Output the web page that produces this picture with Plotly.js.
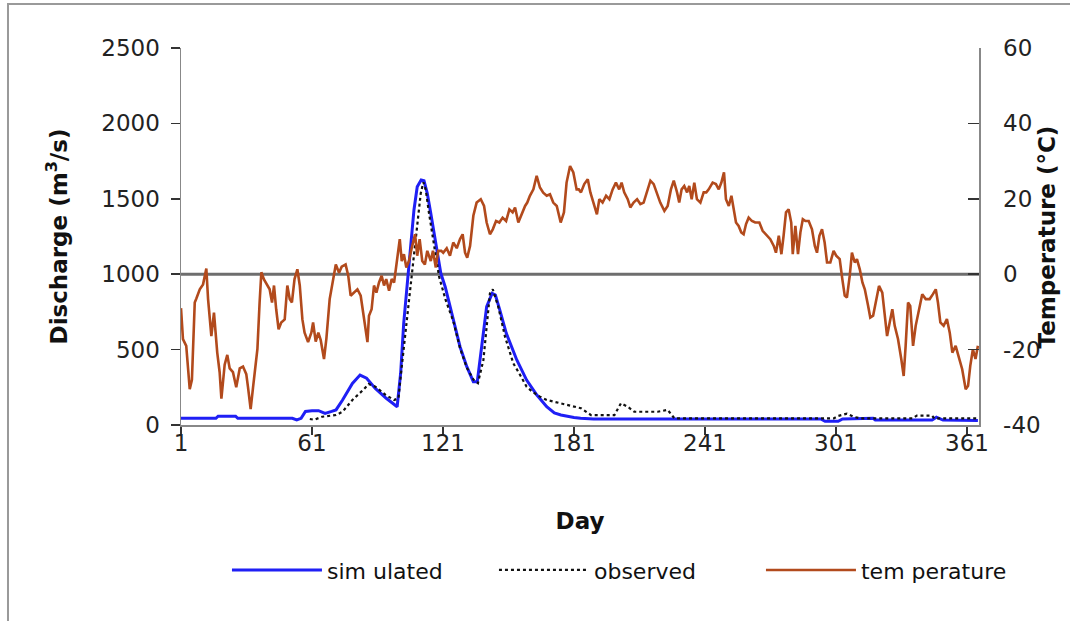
<!DOCTYPE html>
<html>
<head>
<meta charset="utf-8">
<script src="https://cdn.plot.ly/plotly-3.0.1.min.js"></script>
<style>html,body{margin:0;padding:0;background:#fff;}#chart{width:1070px;height:621px;}</style>
</head>
<body>
<div id="chart"></div>
<script>
// ---- data ----
const dayTicks = [1, 61, 121, 181, 241, 301, 361];
const qTicks = [0, 500, 1000, 1500, 2000, 2500];
const tTicks = [-40, -20, 0, 20, 40, 60];
const tTickText = ['-40', '-20', '0', '20', '40', '60'];

const simDay = [1, 17, 18, 26, 27, 52, 54, 56, 58, 61, 64, 67, 70, 72, 75, 79.5, 83, 86, 90, 95, 100, 101.6, 103, 104.7, 106.2, 107.7, 109.2, 111, 112.3, 113.8, 115.4, 117.7, 120, 122, 125.7, 128.8, 131.9, 134.9, 136.7, 138.7, 141, 143.5, 145, 147, 150, 154.8, 159.3, 164, 168.5, 172, 175, 181, 184, 190, 250, 294, 296, 302, 304, 318, 319, 345, 347, 350, 366];
const simQ   = [44, 44, 58, 58, 44, 44, 33, 44, 90, 95, 95, 77, 90, 100, 166, 276, 331, 310, 243, 177, 121, 343, 674, 961, 1205, 1426, 1580, 1625, 1620, 1536, 1404, 1205, 1006, 917, 696, 519, 387, 287, 287, 519, 785, 873, 862, 763, 608, 431, 298, 199, 121, 80, 66, 50, 44, 40, 40, 40, 25, 25, 40, 44, 33, 33, 52, 33, 30];

const obsDay = [60, 62, 65.7, 72, 75, 79.5, 84.4, 87, 90, 94.8, 98.6, 100.6, 101.6, 103.1, 104.7, 106.2, 107.7, 109.2, 110.8, 112, 113.1, 114.6, 116.9, 119.2, 122.2, 125.7, 128.8, 131.9, 135, 137, 139.5, 141, 142.5, 143.8, 146.3, 149.4, 153.2, 156, 159.3, 162, 165.4, 168.5, 173, 177.6, 182, 184.2, 188.8, 199.5, 202.5, 205.6, 208.6, 214.7, 219.3, 223.9, 227, 300, 302, 306, 309, 312, 336, 338, 345, 346, 366];
const obsQ   = [40, 35, 55, 66, 88, 166, 232, 272, 254, 199, 166, 177, 320, 519, 763, 961, 1160, 1359, 1536, 1610, 1560, 1404, 1182, 984, 829, 690, 510, 380, 300, 278, 431, 652, 873, 900, 785, 586, 409, 340, 254, 220, 188, 166, 150, 133, 121, 111, 66, 66, 144, 121, 88, 88, 88, 100, 44, 44, 60, 75, 55, 44, 44, 62, 62, 44, 44];

const tempDay = [1, 1.9, 3.4, 5, 6, 7.3, 8, 9.6, 11.1, 12.6, 13.4, 14.9, 16.1, 17.6, 18.7, 19.5, 21, 22.2, 23.3, 24.8, 26.3, 27.9, 29.4, 30.9, 31.7, 32.9, 34, 35, 36, 37, 37.8, 39, 40.5, 41.6, 42.7, 43.6, 44.6, 45.7, 46.9, 48.5, 49.7, 50.8, 51.8, 53, 54.3, 55.4, 56.6, 57.6, 59.2, 60.7, 61.5, 62.7, 63.9, 65, 66.5, 67.6, 69.1, 70.6, 71.9, 73.4, 74.6, 76.4, 77.6, 78.7, 80.2, 81.8, 83.3, 84.4, 85.3, 86.4, 87.1, 88.3, 89.4, 90.5, 91.7, 92.9, 94, 95, 96.3, 97.5, 98.6, 100.1, 101.2, 102.1, 103.1, 104.2, 105.4, 106.7, 108.2, 109.2, 110.3, 111.5, 112.7, 113.8, 115.4, 116.4, 117.7, 118.8, 120.2, 121.1, 122.7, 124.2, 125.7, 127.3, 128.8, 130, 131.1, 132.1, 133.4, 134.9, 136.4, 138.3, 139.8, 141, 142.5, 143.8, 145.3, 146.8, 148.3, 149.9, 151.4, 152.9, 154, 155.5, 157, 158.6, 159.6, 160.8, 162.4, 163.9, 165.4, 166.9, 168.5, 170, 171.5, 173.1, 174.9, 176.4, 177.6, 179.2, 180.7, 182.2, 183.2, 184.2, 185.7, 187.3, 188.5, 190, 191.5, 192.6, 194.1, 195.7, 197.2, 198.7, 200.2, 201.7, 202.8, 204, 205.6, 206.8, 208.3, 209.9, 211.4, 212.9, 214.4, 216, 217.5, 219, 220.5, 222.4, 223.9, 225.4, 226.7, 228.2, 229.2, 230.3, 231.5, 232.8, 233.8, 234.9, 236.1, 237.3, 238.9, 240.4, 241.6, 242.7, 244.5, 246, 247.3, 248.5, 249.7, 250.6, 251.9, 253.1, 254.2, 255.2, 256.4, 257.6, 258.7, 259.8, 261, 262.5, 264, 265.9, 267.4, 269.4, 270.9, 272.5, 273.5, 274.8, 276, 277, 278.1, 279.3, 280.5, 281.2, 282.4, 283.6, 284.7, 285.8, 287, 288.5, 290, 291.3, 292.3, 293.4, 294.6, 295.8, 296.9, 298.4, 299.9, 301.1, 302.7, 303.9, 305, 306, 307.3, 308.3, 309.6, 310.6, 311.9, 313.1, 314.2, 315.7, 316.7, 318, 319.2, 320.7, 322.2, 323.3, 324.4, 325.6, 326.8, 327.9, 329.4, 330.9, 332, 332.9, 334, 335, 336.3, 337.5, 339, 340.5, 342.1, 343.9, 345.4, 346.7, 347.7, 348.8, 350.3, 351.8, 353.1, 354.3, 355.8, 357.3, 358.8, 360.4, 361.5, 362.5, 363.7, 364.9, 366];
const tempC   = [-9, -17.2, -19, -30.5, -28, -7.5, -6.5, -4, -2.7, 1.5, -6.6, -16.4, -10.2, -20.8, -26, -33, -24, -21.4, -25, -26, -30, -25, -24.5, -26.5, -30, -35.8, -30, -24, -19.8, -7.5, 0.5, -1.4, -3, -4, -7.5, -3, -9.3, -14.6, -12.8, -12, -3, -6.6, -7.5, -1.3, 1.3, -3, -12, -15.5, -18, -15.5, -12.8, -17.9, -15.5, -17.5, -22.5, -17, -6.6, -1.3, 2.6, 0.4, 2, 2.6, -0.4, -5.7, -4.9, -4, -5.7, -10.2, -14.6, -18, -11, -9.3, -3, -4.9, -2.2, -0.4, -3, -1.3, -4.4, -1.3, -2.2, 4.9, 9.3, 3.5, 5.3, 1.8, 3.5, 7, 10.6, 4.9, 9.3, 3.5, 2.6, 6.2, 3.5, 6.2, 1.8, 6.2, 6.2, 5.7, 6.9, 4.9, 8.4, 6.9, 9.3, 10.6, 5.7, 4.4, 7.5, 15.5, 19, 19.9, 18.1, 13.7, 10.6, 11.9, 14.1, 13.7, 15, 14.1, 17.2, 16.4, 17.7, 13.7, 15.9, 18.1, 19, 20.8, 22.5, 26.1, 23, 21.6, 20.8, 21.2, 19, 18.1, 13.7, 16.4, 24.3, 28.7, 27, 22.5, 22.5, 21.7, 23.9, 25.2, 21.7, 19, 15.9, 19.9, 19, 20.8, 19.9, 22.5, 24.3, 22.5, 24.3, 21.7, 19.9, 17.7, 19, 19.9, 18.6, 19, 21.7, 24.8, 23.9, 21.7, 19, 16.8, 18.1, 22.5, 24.8, 21.7, 19, 22.5, 23.4, 21.7, 23.4, 19.9, 24.3, 19.9, 19, 21.7, 21.7, 22.5, 24.3, 23.9, 22.5, 24.3, 27, 19.9, 18.1, 20.8, 17.2, 13.7, 12.8, 11.1, 10.6, 13.3, 15, 14.1, 13.7, 13.7, 11.5, 10.2, 9.3, 7.5, 5.7, 10.2, 5.3, 10.2, 16.4, 17.2, 13.7, 5.3, 12.8, 5.3, 11.1, 14.6, 14.1, 14.1, 11.9, 7.5, 5.7, 10.2, 11.9, 8.4, 3.1, 3.1, 6.2, 4.9, 4, -1.3, -5.7, -6.2, -0.4, 5.7, 3.1, 4, 1.3, -2.2, -4, -8.4, -11.5, -11, -7.5, -3.1, -4.9, -10.2, -16.4, -12.8, -9.3, -13.7, -17.2, -22.5, -27, -19, -7.5, -8.4, -19, -13.7, -9.3, -5.3, -6.6, -6.6, -5.3, -4, -7.5, -12.8, -13.7, -11.9, -15.5, -20.8, -19, -22.5, -25.2, -30.5, -29.6, -24.3, -19.9, -22.5, -19];

// ---- chart ----
const FONT = 'DejaVu Sans, Liberation Sans, Arial, sans-serif';
const traces = [
  {x: simDay, y: simQ, name: 'sim ulated', type: 'scatter', mode: 'lines',
   line: {color: '#1f1ff5', width: 3}, yaxis: 'y'},
  {x: obsDay, y: obsQ, name: 'observed', type: 'scatter', mode: 'lines',
   line: {color: '#111111', width: 2.2, dash: '3px,3px'}, yaxis: 'y'},
  {x: tempDay, y: tempC, name: 'tem perature', type: 'scatter', mode: 'lines',
   line: {color: '#b24a1c', width: 2.6}, yaxis: 'y2'}
];

const layout = {
  width: 1070, height: 621,
  margin: {l: 181, r: 91, t: 48, b: 196},
  paper_bgcolor: '#ffffff', plot_bgcolor: '#ffffff',
  font: {family: FONT, size: 22, color: '#222'},
  showlegend: true,
  legend: {orientation: 'h', x: 0.0576, xanchor: 'left', y: -0.385, yanchor: 'middle',
           font: {family: FONT, size: 22, color: '#111'}, itemwidth: 90, entrywidth: 162,
           bgcolor: 'rgba(0,0,0,0)', traceorder: 'normal'},
  xaxis: {range: [1, 366.5], tickmode: 'array', tickvals: dayTicks, ticktext: dayTicks.map(String),
          showline: true, linecolor: '#888', linewidth: 1.5, ticks: 'outside', ticklen: 8,
          tickcolor: '#333', tickwidth: 1.5, showgrid: false, zeroline: false,
          tickfont: {family: FONT, size: 23, color: '#222'}, ticklabelstandoff: -11,
          title: {text: 'Day', font: {family: FONT, size: 23, color: '#111', weight: 'bold'}, standoff: 58}},
  yaxis: {range: [0, 2500], tickmode: 'array', tickvals: qTicks, ticktext: qTicks.map(String),
          showline: true, linecolor: '#888', linewidth: 1.5, ticks: 'outside', ticklen: 9,
          tickcolor: '#333', tickwidth: 1.5, showgrid: false, zeroline: false,
          tickfont: {family: FONT, size: 23, color: '#222'}, ticklabelstandoff: 6,
          title: {text: 'Discharge (m<sup>3</sup>/s)', font: {family: FONT, size: 23, color: '#111', weight: 'bold'}, standoff: 27}},
  yaxis2: {range: [-40, 60], overlaying: 'y', side: 'right', tickmode: 'array',
           tickvals: tTicks, ticktext: tTickText,
           showline: true, linecolor: '#888', linewidth: 1.5, ticks: 'inside', ticklen: 11,
           tickcolor: '#333', tickwidth: 1.5, showgrid: false, zeroline: false,
           tickfont: {family: FONT, size: 23, color: '#222'}, ticklabelstandoff: 18},
  annotations: [
    {text: 'Temperature (°C)', xref: 'paper', yref: 'paper', x: 1.0852, y: 0.5,
     xanchor: 'center', yanchor: 'middle', textangle: -90, showarrow: false,
     font: {family: FONT, size: 23, color: '#111', weight: 'bold'}}
  ],
  shapes: [
    {type: 'line', xref: 'paper', yref: 'y', x0: 0, x1: 1, y0: 1000, y1: 1000,
     line: {color: '#6e6e6e', width: 3}, layer: 'below'},
    {type: 'rect', xref: 'paper', yref: 'paper', x0: -0.2168, x1: 1.2, y0: -0.6, y1: 1.1167,
     line: {color: '#9a9a9a', width: 2}, fillcolor: 'rgba(0,0,0,0)', layer: 'below'}
  ]
};

Plotly.newPlot('chart', traces, layout, {displayModeBar: false, staticPlot: true});
</script>
</body>
</html>
